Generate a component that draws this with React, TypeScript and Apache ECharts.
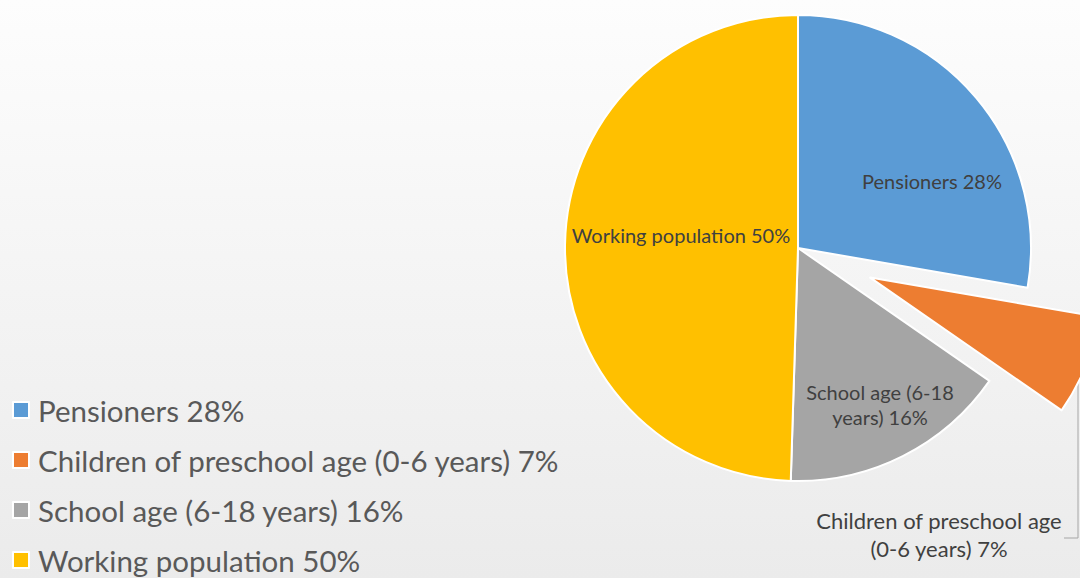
import React, { useEffect, useRef } from "react";
import * as echarts from "echarts";

const categories = [
  "Pensioners 28%",
  "Children of preschool age (0-6 years) 7%",
  "School age (6-18 years) 16%",
  "Working population 50%",
];
const values = [28, 7, 16, 50];
const sliceLabels = [
  "Pensioners 28%",
  "Children of preschool age\n(0-6 years) 7%",
  "School age (6-18\nyears) 16%",
  "Working population 50%",
];
const colors = ["#5B9BD5", "#ED7D31", "#A5A5A5", "#FFC000"];

const labelPos: Record<number, [number, number]> = {
  0: [932, 181],
  2: [880, 404],
  3: [681, 235],
};

export default function App() {
  const ref = useRef<HTMLDivElement>(null);
  useEffect(() => {
    document.body.style.margin = "0";
    const chart = echarts.init(ref.current!, undefined, { renderer: "svg" });
    chart.setOption({
      animation: false,
      backgroundColor: new echarts.graphic.LinearGradient(0, 0, 0, 1, [
        { offset: 0, color: "#fdfdfd" },
        { offset: 1, color: "#ebebeb" },
      ]),
      legend: {
        orient: "vertical",
        left: 12,
        top: 395,
        height: 220,
        padding: 0,
        itemWidth: 16,
        itemHeight: 16,
        itemGap: 20,
        icon: "rect",
        selectedMode: false,
        itemStyle: { borderColor: "#ffffff", borderWidth: 2 },
        textStyle: {
          fontFamily: "Lato",
          fontSize: 29.5,
          lineHeight: 30,
          color: "#595959",
          padding: [0, 0, 0, 4],
        },
        data: categories,
      },
      graphic: [
        {
          type: "text",
          style: {
            text: sliceLabels[1],
            x: 939,
            y: 534,
            align: "center",
            verticalAlign: "middle",
            fontFamily: "Lato",
            fontSize: 22,
            lineHeight: 28,
            fill: "#404040",
          },
        },
        {
          type: "polyline",
          shape: { points: [[1078, 362], [1078, 538], [1064, 538]] },
          style: { stroke: "#a6a6a6", lineWidth: 1, fill: "none" },
        },
      ],
      series: [
        {
          type: "pie",
          center: [798, 248],
          radius: 233,
          startAngle: 90,
          clockwise: true,
          selectedMode: "single",
          selectedOffset: 78,
          avoidLabelOverlap: false,
          itemStyle: { borderColor: "#ffffff", borderWidth: 2 },
          label: {
            show: true,
            position: "inside",
            fontFamily: "Lato",
            fontSize: 20,
            lineHeight: 25,
            color: "#404040",
            align: "center",
          },
          labelLine: { show: false },
          labelLayout: (p: any) => {
            const pos = labelPos[p.dataIndex];
            if (!pos) return {};
            return { x: pos[0], y: pos[1], align: "center", verticalAlign: "middle" };
          },
          data: categories.map((c, i) => ({
            name: c,
            value: values[i],
            selected: i === 1,
            itemStyle: { color: colors[i] },
            label: { show: i !== 1, formatter: sliceLabels[i] },
          })),
        },
      ],
    });
    return () => chart.dispose();
  }, []);
  return (
    <div
      ref={ref}
      style={{ position: "absolute", left: 0, top: 0, width: 1080, height: 578 }}
    />
  );
}
